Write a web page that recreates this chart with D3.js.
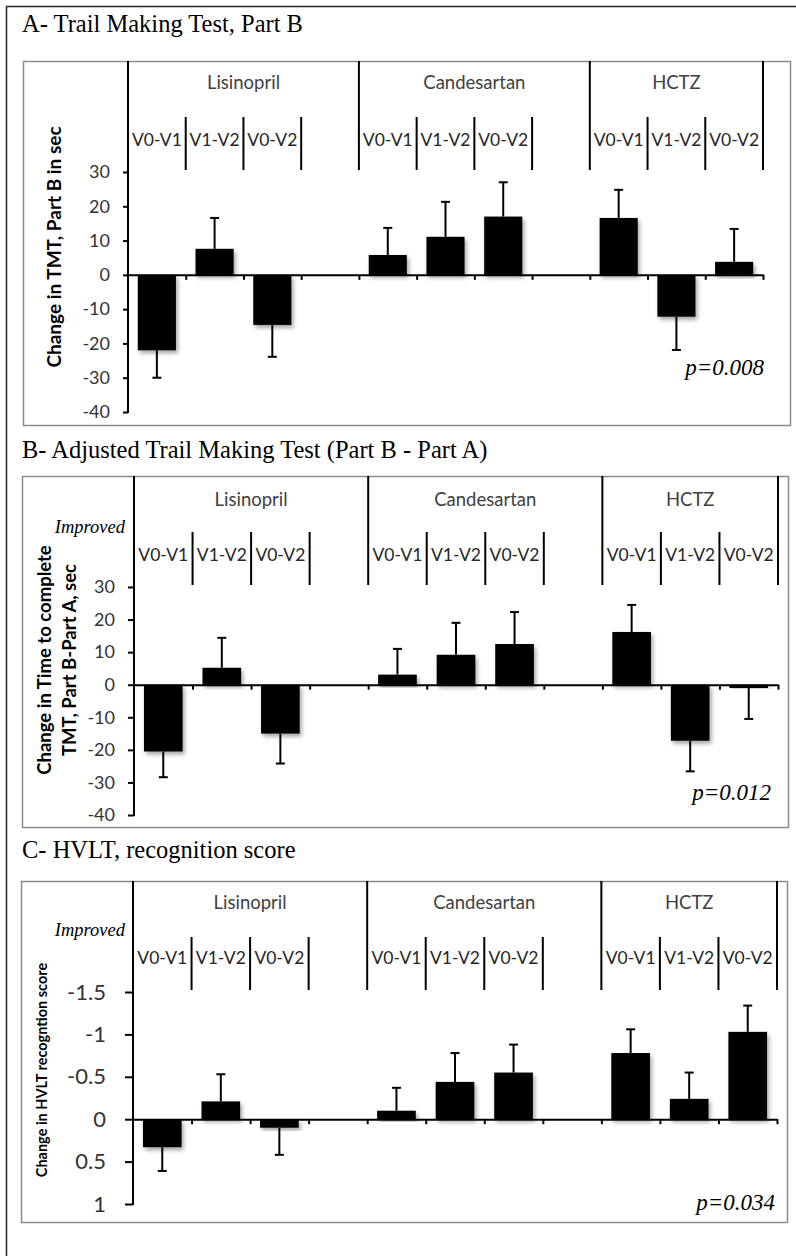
<!DOCTYPE html>
<html>
<head>
<meta charset="utf-8">
<script src="https://cdn.jsdelivr.net/npm/d3@7"></script>
<style>
  body { margin: 0; background: #fff; }
  svg { display: block; }
</style>
</head>
<body>
<script>
// drug groups and visit intervals (two level category axis)
const groups = ["Lisinopril", "Candesartan", "HCTZ"];
const periods = ["V0-V1", "V1-V2", "V0-V2"];

// A - Trail Making Test part B, change in sec
const tmtB = [-22, 7.6, -14.6, 5.8, 11.1, 17, 16.6, -12.2, 3.8];
const tmtBErr = [8, 9, 9.3, 7.9, 10.2, 10, 8.2, 9.7, 9.6];
// B - adjusted TMT (part B - part A)
const tmtAdj = [-20.5, 5.2, -15, 3.1, 9.2, 12.5, 16.2, -17.2, -1];
const tmtAdjErr = [7.9, 9.2, 9.2, 7.9, 9.8, 9.8, 8.3, 9.4, 9.5];
// C - HVLT recognition score (axis is reversed, negative = up)
const hvlt = [0.33, -0.21, 0.1, -0.1, -0.44, -0.55, -0.78, -0.24, -1.03];
const hvltErr = [0.28, 0.32, 0.32, 0.27, 0.34, 0.33, 0.28, 0.31, 0.31];

const tmtTicks = [-40, -30, -20, -10, 0, 10, 20, 30];
const hvltTicks = [-1.5, -1, -0.5, 0, 0.5, 1];

const titles = [
  "A- Trail Making Test, Part B",
  "B- Adjusted Trail Making Test (Part B - Part A)",
  "C- HVLT, recognition score"
];
const yLabels = [
  ["Change in TMT, Part B in sec"],
  ["Change in Time to complete", "TMT, Part B-Part A, sec"],
  ["Change in HVLT recogntion score"]
];
const pValues = ["p=0.008", "p=0.012", "p=0.034"];

const sans = "Lato, 'Open Sans', sans-serif";
const serif = "'Liberation Serif', 'DejaVu Serif', serif";

const width = 796, height = 1256;

const svg = d3.select("body").append("svg")
  .attr("width", width)
  .attr("height", height);

// soft drop shadow like the office bars
svg.append("defs").append("filter")
  .attr("id", "shadow")
  .attr("x", "-20%").attr("y", "-20%")
  .attr("width", "150%").attr("height", "150%")
  .append("feDropShadow")
  .attr("dx", 2).attr("dy", 3)
  .attr("stdDeviation", 2)
  .attr("flood-color", "#000")
  .attr("flood-opacity", 0.35);

// outer frame (only top and left are visible)
svg.append("path")
  .attr("d", "M6.5," + height + "V6.5H" + width)
  .attr("fill", "none")
  .attr("stroke", "#222")
  .attr("stroke-width", 1.5);

const panels = [
  { title: titles[0], titleY: 32, values: tmtB, errs: tmtBErr, ticks: tmtTicks, domain: [-40, 30],
    box: [23, 61, 767, 364], x0: 128, x1: 763, yBottom: 412, yTop: 172,
    shortTop: 117, groupY: 83, subY: 140, tickFont: 18, tickLen: 5, tickEnd: 110,
    yLabel: yLabels[0], yLabelX: [54], yLabelY: 247, yLabelFont: 19,
    improvedY: null, p: pValues[0], pX: 764, pY: 375 },
  { title: titles[1], titleY: 458, values: tmtAdj, errs: tmtAdjErr, ticks: tmtTicks, domain: [-40, 30],
    box: [22, 476, 766, 351], x0: 134, x1: 778, yBottom: 815, yTop: 587,
    shortTop: 532, groupY: 500, subY: 555, tickFont: 18, tickLen: 6, tickEnd: 115,
    yLabel: yLabels[1], yLabelX: [45, 70], yLabelY: 660, yLabelFont: 18.5,
    improvedY: 533, p: pValues[1], pX: 771, pY: 800 },
  { title: titles[2], titleY: 858, values: hvlt, errs: hvltErr, ticks: hvltTicks, domain: [1, -1.5],
    box: [21, 881, 766, 341], x0: 133, x1: 777, yBottom: 1204, yTop: 992,
    shortTop: 937, groupY: 903, subY: 958, tickFont: 22, tickLen: 8, tickEnd: 106,
    yLabel: yLabels[2], yLabelX: [42], yLabelY: 1070, yLabelFont: 14.5,
    improvedY: 936, p: pValues[2], pX: 775, pY: 1210 }
];

panels.forEach(function (cfg) {
  const g = svg.append("g");

  // panel title
  g.append("text")
    .attr("x", 22)
    .attr("y", cfg.titleY)
    .style("font-family", serif)
    .style("font-size", "24.5px")
    .attr("fill", "#000")
    .text(cfg.title);

  // plot area border
  g.append("rect")
    .attr("x", cfg.box[0] + 0.5).attr("y", cfg.box[1] + 0.5)
    .attr("width", cfg.box[2]).attr("height", cfg.box[3])
    .attr("fill", "#fff")
    .attr("stroke", "#8c8c8c")
    .attr("stroke-width", 1.5);

  // 11 slots: 3 + gap + 3 + gap + 3
  const x = d3.scaleLinear().domain([0, 11]).range([cfg.x0, cfg.x1]);
  const y = d3.scaleLinear().domain(cfg.domain).range([cfg.yBottom, cfg.yTop]);
  const slotW = x(1) - x(0);
  const barW = slotW * 0.66;

  const rows = cfg.values.map(function (v, i) {
    const gi = Math.floor(i / 3), pi = i % 3;
    return { slot: gi * 4 + pi, v: v, e: cfg.errs[i] };
  });

  // bars
  g.append("g").selectAll("rect")
    .data(rows)
    .join("rect")
    .attr("x", d => x(d.slot + 0.5) - barW / 2)
    .attr("y", d => Math.min(y(0), y(d.v)))
    .attr("width", barW)
    .attr("height", d => Math.abs(y(d.v) - y(0)))
    .attr("fill", "#000")
    .attr("filter", "url(#shadow)");

  // error bars, one sided away from zero
  const err = g.append("g").attr("stroke", "#000").attr("stroke-width", 2);
  rows.forEach(function (d) {
    const cx = x(d.slot + 0.5);
    const end = y(d.v + Math.sign(d.v) * d.e);
    err.append("line")
      .attr("x1", cx).attr("x2", cx)
      .attr("y1", y(d.v)).attr("y2", end);
    err.append("line")
      .attr("x1", cx - 4.5).attr("x2", cx + 4.5)
      .attr("y1", end).attr("y2", end);
  });

  // y axis
  const yAxis = d3.axisLeft(y)
    .tickValues(cfg.ticks)
    .tickSize(cfg.tickLen)
    .tickSizeOuter(0)
    .tickPadding(cfg.x0 - cfg.tickLen - cfg.tickEnd)
    .tickFormat(d => String(d));
  const ya = g.append("g")
    .attr("transform", "translate(" + cfg.x0 + ",0)")
    .call(yAxis);
  ya.select(".domain").remove();
  ya.selectAll(".tick line").attr("stroke", "#000").attr("stroke-width", 2);
  ya.selectAll(".tick text")
    .style("font-family", sans)
    .style("font-size", cfg.tickFont + "px")
    .attr("fill", "#333");

  // zero line with small ticks at category boundaries
  const xAxis = d3.axisBottom(x)
    .tickValues(d3.range(1, 12))
    .tickSize(5)
    .tickSizeOuter(0)
    .tickFormat("");
  const xa = g.append("g")
    .attr("transform", "translate(0," + y(0) + ")")
    .call(xAxis);
  xa.select(".domain").attr("stroke", "#000").attr("stroke-width", 2);
  xa.selectAll(".tick line").attr("stroke", "#000").attr("stroke-width", 2);

  // vertical axis line from top of plot area down to last tick
  g.append("line")
    .attr("x1", cfg.x0).attr("x2", cfg.x0)
    .attr("y1", cfg.box[1]).attr("y2", cfg.yBottom + 1)
    .attr("stroke", "#000").attr("stroke-width", 2);

  // category separators: long for groups, short for intervals
  const longB = [4, 8, 11];
  const shortB = [1, 2, 3, 5, 6, 7, 9, 10];
  const sep = g.append("g").attr("stroke", "#000").attr("stroke-width", 2);
  longB.forEach(function (b) {
    sep.append("line")
      .attr("x1", x(b)).attr("x2", x(b))
      .attr("y1", cfg.box[1]).attr("y2", cfg.yTop - 2);
  });
  shortB.forEach(function (b) {
    sep.append("line")
      .attr("x1", x(b)).attr("x2", x(b))
      .attr("y1", cfg.shortTop).attr("y2", cfg.yTop - 2);
  });

  // group labels
  const groupMid = [2, 6, 9.5];
  g.append("g").selectAll("text")
    .data(groups)
    .join("text")
    .attr("x", (d, i) => x(groupMid[i]))
    .attr("y", cfg.groupY)
    .attr("dy", "0.35em")
    .attr("text-anchor", "middle")
    .style("font-family", sans)
    .style("font-size", "18.5px")
    .attr("fill", "#404040")
    .text(d => d);

  // interval labels
  g.append("g").selectAll("text")
    .data(rows)
    .join("text")
    .attr("x", d => x(d.slot + 0.5))
    .attr("y", cfg.subY)
    .attr("dy", "0.35em")
    .attr("text-anchor", "middle")
    .style("font-family", sans)
    .style("font-size", "17.5px")
    .attr("fill", "#262626")
    .text((d, i) => periods[i % 3]);

  // y label
  const yl = g.append("text")
    .attr("transform", "translate(0," + cfg.yLabelY + ") rotate(-90)")
    .attr("text-anchor", "middle")
    .style("font-family", sans)
    .style("font-weight", "bold")
    .style("font-size", cfg.yLabelFont + "px")
    .attr("fill", "#000");
  cfg.yLabel.forEach(function (line, i) {
    yl.append("tspan")
      .attr("x", 0)
      .attr("y", cfg.yLabelX[i])
      .attr("dy", "0.35em")
      .text(line);
  });

  if (cfg.improvedY) {
    g.append("text")
      .attr("x", 125)
      .attr("y", cfg.improvedY)
      .attr("text-anchor", "end")
      .style("font-family", serif)
      .style("font-style", "italic")
      .style("font-size", "18.5px")
      .text("Improved");
  }

  // p value
  g.append("text")
    .attr("x", cfg.pX)
    .attr("y", cfg.pY)
    .attr("text-anchor", "end")
    .style("font-family", serif)
    .style("font-style", "italic")
    .style("font-size", "23px")
    .text(cfg.p);
});
</script>
</body>
</html>
